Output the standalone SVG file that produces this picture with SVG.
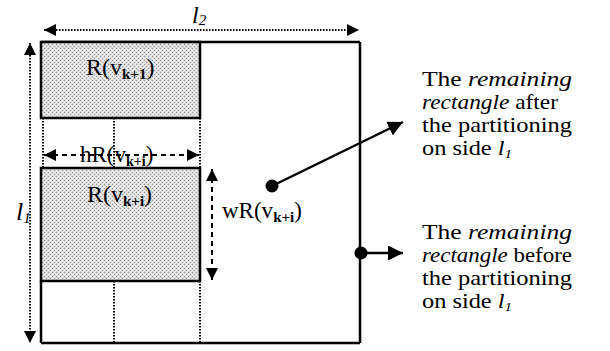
<svg xmlns="http://www.w3.org/2000/svg" width="610" height="351" viewBox="0 0 610 351">
<style>
.serif{font-family:"Liberation Serif","Times New Roman",serif;fill:#000}
.dot{stroke:#000;stroke-width:2;stroke-dasharray:1.5 1.5;fill:none}
.dash{stroke:#000;stroke-width:2;stroke-dasharray:5 4;fill:none}
.solid{stroke:#000;stroke-width:2.5;fill:none}
</style>
<defs>
<marker id="ah" viewBox="0 0 10 10" refX="10" refY="5" markerWidth="6" markerHeight="6" markerUnits="strokeWidth" orient="auto-start-reverse">
<path d="M0,0 L10,5 L0,10 z" fill="#000"/>
</marker>
<marker id="ah2" viewBox="0 0 10 10" refX="10" refY="5" markerWidth="7" markerHeight="6" markerUnits="strokeWidth" orient="auto-start-reverse">
<path d="M0,0 L10,5 L0,10 z" fill="#000"/>
</marker>
<pattern id="shade" width="4" height="4" patternUnits="userSpaceOnUse">
<rect width="4" height="4" fill="#dedede"/>
<rect x="0" y="0" width="1" height="1" fill="#8f8f8f"/>
<rect x="2" y="2" width="1" height="1" fill="#a0a0a0"/>
<rect x="2" y="0" width="1" height="1" fill="#f6f6f6"/>
<rect x="0" y="2" width="1" height="1" fill="#f6f6f6"/>
</pattern>
</defs>

<g id="outer">
<line x1="41" y1="42" x2="360" y2="42" class="solid"/>
<line x1="360" y1="42" x2="360" y2="343" class="solid"/>
<line x1="41" y1="343" x2="360" y2="343" class="solid"/>
<line x1="41" y1="281" x2="41" y2="343" class="solid"/>
</g>

<g id="box1">
<rect x="41" y="42" width="159" height="76" fill="url(#shade)" stroke="#000" stroke-width="2.5"/>
<text class="serif" x="86" y="75" font-size="24">R(v<tspan font-size="15" font-weight="bold" dy="4">k+1</tspan><tspan dy="-4">)</tspan></text>
</g>

<g id="gap1">
<line x1="43" y1="118" x2="43" y2="168" class="dot"/>
<line x1="114" y1="118" x2="114" y2="168" class="dot"/>
<line x1="200" y1="118" x2="200" y2="168" class="dot"/>
</g>

<g id="box2">
<rect x="41" y="168" width="159" height="113" fill="url(#shade)" stroke="#000" stroke-width="2.5"/>
<text class="serif" x="87" y="202" font-size="24">R(v<tspan font-size="15" font-weight="bold" dy="4">k+i</tspan><tspan dy="-4">)</tspan></text>
</g>

<g id="gap2">
<line x1="114" y1="281" x2="114" y2="343" class="dot"/>
<line x1="200" y1="281" x2="200" y2="343" class="dot"/>
</g>

<g id="labels">
<text class="serif" x="80" y="162" font-size="23">hR(v<tspan font-size="14" font-weight="bold" dy="4">k+i</tspan><tspan dy="-4">)</tspan></text>
<text class="serif" x="222" y="218" font-size="23">wR(v<tspan font-size="15" font-weight="bold" dy="4">k+i</tspan><tspan dy="-4">)</tspan></text>
<text class="serif" x="192" y="23" font-size="24" font-style="italic">l<tspan font-size="15" dy="2">2</tspan></text>
<text class="serif" x="16" y="220" font-size="26" font-style="italic">l<tspan font-size="15" dy="3">1</tspan></text>
</g>

<g id="connectors">
<line x1="44" y1="30" x2="359" y2="30" class="dot" marker-start="url(#ah2)" marker-end="url(#ah2)"/>
<line x1="30" y1="43" x2="30" y2="343" class="dot" marker-start="url(#ah2)" marker-end="url(#ah2)"/>
<line x1="44" y1="155" x2="199" y2="155" class="dash" marker-start="url(#ah)" marker-end="url(#ah)"/>
<line x1="212" y1="169" x2="212" y2="280" class="dash" marker-start="url(#ah)" marker-end="url(#ah)"/>
<circle cx="272" cy="186" r="6.5" fill="#000"/>
<line x1="272" y1="186" x2="403" y2="122" stroke="#000" stroke-width="2.5" marker-end="url(#ah)"/>
<circle cx="361" cy="253" r="6.5" fill="#000"/>
<line x1="361" y1="253" x2="403" y2="253" stroke="#000" stroke-width="2.5" marker-end="url(#ah)"/>
</g>

<g id="note-after">
<text class="serif" x="422" y="86" font-size="21" textLength="150" lengthAdjust="spacingAndGlyphs">The  <tspan font-style="italic">remaining</tspan></text>
<text class="serif" x="422" y="109" font-size="21" textLength="136" lengthAdjust="spacingAndGlyphs"><tspan font-style="italic">rectangle</tspan> after</text>
<text class="serif" x="422" y="132" font-size="21" textLength="150" lengthAdjust="spacingAndGlyphs">the partitioning</text>
<text class="serif" x="422" y="155" font-size="21" textLength="90" lengthAdjust="spacingAndGlyphs">on side <tspan font-style="italic">l<tspan font-size="13" dy="3">1</tspan></tspan></text>
</g>

<g id="note-before">
<text class="serif" x="422" y="239" font-size="21" textLength="150" lengthAdjust="spacingAndGlyphs">The  <tspan font-style="italic">remaining</tspan></text>
<text class="serif" x="422" y="262" font-size="21" textLength="150" lengthAdjust="spacingAndGlyphs"><tspan font-style="italic">rectangle</tspan> before</text>
<text class="serif" x="422" y="285" font-size="21" textLength="150" lengthAdjust="spacingAndGlyphs">the partitioning</text>
<text class="serif" x="422" y="308" font-size="21" textLength="90" lengthAdjust="spacingAndGlyphs">on side <tspan font-style="italic">l<tspan font-size="13" dy="3">1</tspan></tspan></text>
</g>
</svg>
